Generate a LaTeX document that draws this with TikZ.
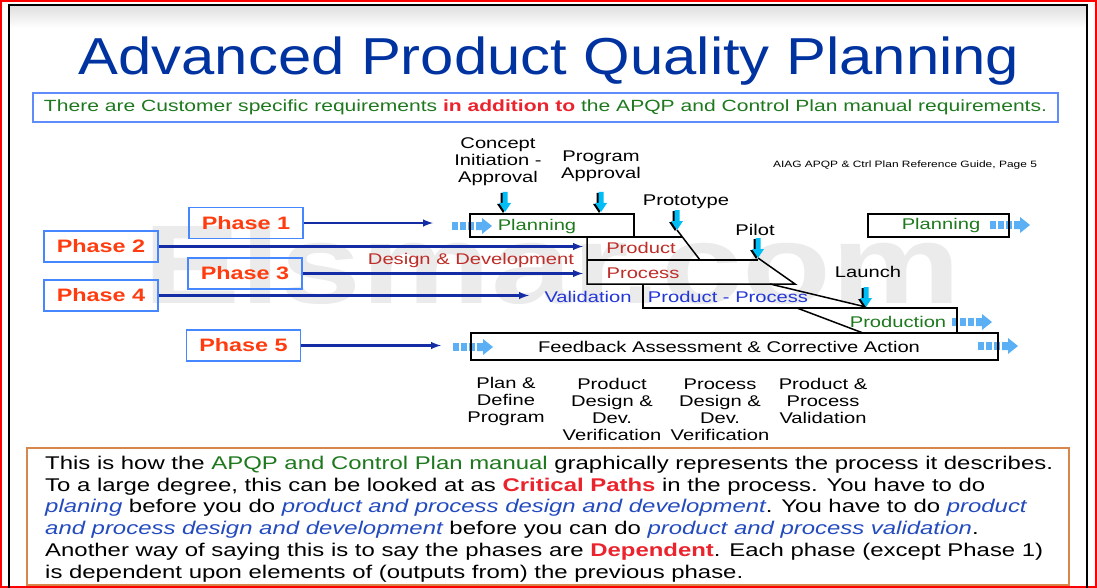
\documentclass[tikz,border=0pt]{standalone}
\usepackage{fontspec}
\setmainfont{Liberation Sans}[FakeStretch=1.3]
\newfontfamily\titlefont{Liberation Sans}[FakeStretch=1.15]

\definecolor{titleblue}{RGB}{0,51,160}
\definecolor{apqpgreen}{RGB}{30,120,30}
\definecolor{hotred}{RGB}{235,35,45}
\definecolor{phaseorange}{RGB}{255,60,15}
\definecolor{phaseframe}{RGB}{70,135,255}
\definecolor{subframe}{RGB}{95,140,250}
\definecolor{arrowblue}{RGB}{20,45,165}
\definecolor{prodred}{RGB}{190,45,40}
\definecolor{valblue}{RGB}{35,55,215}
\definecolor{itblue}{RGB}{35,75,190}
\definecolor{flowblue}{RGB}{90,175,245}
\definecolor{cyanarrow}{RGB}{0,190,245}
\definecolor{noteorange}{RGB}{215,135,75}

\begin{document}
\begin{tikzpicture}[x=1pt, y=-1pt,
    phase/.style={draw=phaseframe, line width=1.2pt, minimum width=114pt, minimum height=31pt, inner sep=0pt, text=phaseorange, font=\fontsize{18}{20}\selectfont\bfseries},
    feed/.style={-latex, line width=2.4pt, draw=arrowblue},
    bar/.style={line width=1.5pt},
    lbl/.style={font=\fontsize{15.5}{17}\selectfont, align=center, inner sep=0pt},
    milestone/.pic={
      \fill[black, shift={(-2,1)}] (0,0) -- (-6,-9) -- (-2.5,-9) -- (-2.5,-20) -- (2.5,-20) -- (2.5,-9) -- (6,-9) -- cycle;
      \fill[cyanarrow] (0,0) -- (-6,-9) -- (-2.5,-9) -- (-2.5,-20) -- (2.5,-20) -- (2.5,-9) -- (6,-9) -- cycle;
    },
    flow/.pic={
      \foreach \s in {0,8,16} \fill[flowblue] (\s,-4) rectangle ++(6,8);
      \fill[flowblue] (24,-4) -- (30,-4) -- (30,-8) -- (40,0) -- (30,8) -- (30,4) -- (24,4) -- cycle;
    }
]
\useasboundingbox (0,0) rectangle (1097,588);

% Frame
\fill[top color=gray!25, bottom color=white] (10,6) rectangle (1086,28);
\draw[red, line width=2pt] (1,1) rectangle (1096,587);
\draw[line width=2pt] (9,588) -- (9,5) -- (1087,5) -- (1087,588);

% Watermark
\node[font=\fontsize{112}{112}\selectfont\bfseries, text=gray!16, anchor=base] (mark) at (552,303) {Elsmar.com};

% Heading
\node[font=\titlefont\fontsize{52}{60}\selectfont, text=titleblue, anchor=base] (title) at (549,75) {Advanced Product Quality Planning};
\node[draw=subframe, line width=1.2pt, minimum width=1025pt, minimum height=29pt, inner sep=0pt, text=apqpgreen, font=\fontsize{16.2}{18}\selectfont] (note) at (545.5,107.5) {There are Customer specific requirements \textcolor{hotred}{\bfseries in addition to} the APQP and Control Plan manual requirements.};

% Milestones
\node[lbl] (concept) at (498,162) {Concept\\Initiation -\\Approval};
\node[lbl] (program) at (601,166) {Program\\Approval};
\node[lbl] (proto) at (686,202) {Prototype};
\node[lbl] (pilot) at (755,230) {Pilot};
\node[lbl] (launch) at (868,272) {Launch};
\node[font=\fontsize{9.2}{10}\selectfont, inner sep=0pt] (ref) at (905,165) {AIAG APQP \& Ctrl Plan Reference Guide, Page 5};

\coordinate (tconcept) at (505,212);
\coordinate (tprogram) at (601,212);
\coordinate (tproto) at (677,230);
\coordinate (tpilot) at (758,258);
\coordinate (tlaunch) at (866,307);

% Flow arrows
\pic at (452,226) {flow};
\pic at (453,347) {flow};
\pic at (990,225) {flow};
\pic at (952,322) {flow};
\pic at (978,346) {flow};

% Bars
\draw[bar] (470,214) rectangle (634,237);
\draw[bar] (634,237) -- (682,237);
\draw[bar] (tproto) -- (700,260);
\draw[bar] (587,237) -- (587,284) -- (795,284) -- (tpilot);
\draw[bar] (587,260) -- (758,260);
\draw[bar] (643,284) -- (643,308) -- (957,308) -- (957,333);
\draw[bar] (770,284) -- (tlaunch);
\draw[bar] (797,308) -- (863,333);
\draw[bar] (471,333) rectangle (998,360);
\draw[bar] (868,214) rectangle (1009,237);

\foreach \t in {tconcept,tprogram,tproto,tpilot,tlaunch} \pic at (\t) {milestone};

% Bar labels
\node[lbl, text=apqpgreen] (plan) at (537,226) {Planning};
\node[lbl, text=prodred] (product) at (641,248) {Product};
\node[lbl, text=prodred] (process) at (643,273) {Process};
\node[lbl, text=valblue] (pp) at (728,297) {Product - Process};
\node[lbl, text=apqpgreen] (prodn) at (898,322) {Production};
\node[lbl] (feedback) at (729,347) {Feedback Assessment \& Corrective Action};
\node[lbl, text=apqpgreen] (replan) at (941,225) {Planning};
\node[lbl, text=prodred] (design) at (471,260) {Design \& Development};
\node[lbl, text=valblue] (valid) at (588,297) {Validation};

% Phases
\node[phase] (ph1) at (246,223) {Phase 1};
\node[phase] (ph2) at (101,246.5) {Phase 2};
\node[phase] (ph3) at (245,273.5) {Phase 3};
\node[phase] (ph4) at (101,295.5) {Phase 4};
\node[phase] (ph5) at (243.5,345.5) {Phase 5};

\coordinate (in1) at (433,223);
\coordinate (in2) at (583,246.5);
\coordinate (in3) at (583,273.5);
\coordinate (in4) at (529,295.5);
\coordinate (in5) at (441,345.5);

\draw[feed] (ph1) -- (in1);
\draw[feed] (ph2) -- (in2);
\draw[feed] (ph3) -- (in3);
\draw[feed] (ph4) -- (in4);
\draw[feed] (ph5) -- (in5);

% Columns
\node[lbl] (col1) at (506,401) {Plan \&\\Define\\Program};
\node[lbl] (col2) at (612,409.5) {Product\\Design \&\\Dev.\\Verification};
\node[lbl] (col3) at (720,409.5) {Process\\Design \&\\Dev.\\Verification};
\node[lbl] (col4) at (823,401) {Product \&\\Process\\Validation};

% Comment box
\draw[noteorange, line width=1.2pt] (27,448) rectangle (1069,585);
\node[anchor=north west, inner sep=0pt, align=left, font=\fontsize{18.4}{21.7}\selectfont] (body) at (45,456) {This is how the \textcolor{apqpgreen}{APQP and Control Plan manual} graphically represents the process it describes.\\
To a large degree, this can be looked at as \textcolor{hotred}{\bfseries Critical Paths} in the process. You have to do\\
\textcolor{itblue}{\itshape planing} before you do \textcolor{itblue}{\itshape product and process design and development}. You have to do \textcolor{itblue}{\itshape product}\\
\textcolor{itblue}{\itshape and process design and development} before you can do \textcolor{itblue}{\itshape product and process validation}.\\
Another way of saying this is to say the phases are \textcolor{hotred}{\bfseries Dependent}. Each phase (except Phase 1)\\
is dependent upon elements of (outputs from) the previous phase.};

\end{tikzpicture}
\end{document}
